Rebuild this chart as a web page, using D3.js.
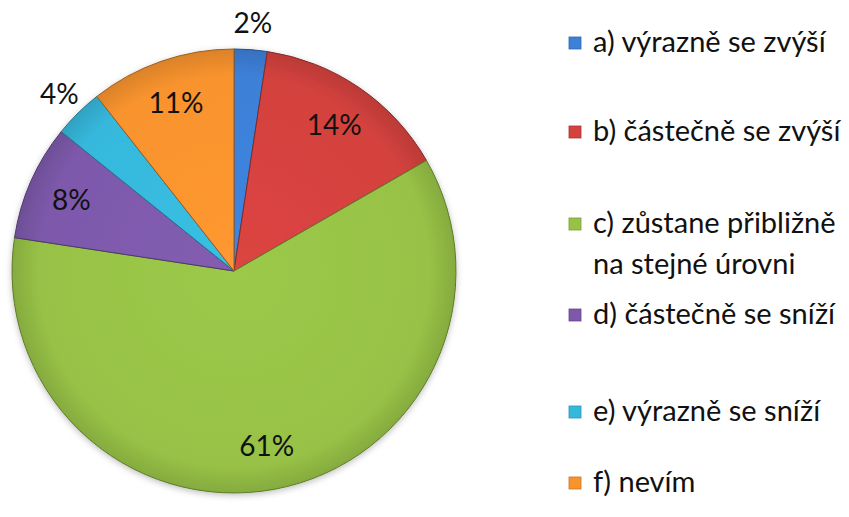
<!DOCTYPE html>
<html>
<head>
<meta charset="utf-8">
<script src="https://cdn.jsdelivr.net/npm/d3@7"></script>
<style>
  body { margin: 0; background: #fff; }
  text { font-family: Lato, "Open Sans", sans-serif; fill: #111; }
</style>
</head>
<body>
<div class="chart"></div>
<script>
var svgWidth = 849;
var svgHeight = 517;

// data
var legendLines = [["a) výrazně se zvýší"], ["b) částečně se zvýší"], ["c) zůstane přibližně", "na stejné úrovni"],
  ["d) částečně se sníží"], ["e) výrazně se sníží"], ["f) nevím"]];
var shares = [2.4, 14.3, 60.7, 8.4, 3.6, 10.6];
var colors = ["#3d80d8", "#d4423e", "#97c246", "#7d59ab", "#36b8dc", "#f8932e"];

// layout
var cx = 234, cy = 271, radius = 222;
var legendX = 569;
var legendY = [42, 131, 223, 314, 411, 482];

var svg = d3.select(".chart")
  .append("svg")
  .attr("width", svgWidth)
  .attr("height", svgHeight);

var defs = svg.append("defs");

// subtle bevel: slightly darker towards the rim
colors.forEach(function(c, i) {
  var g = defs.append("radialGradient")
    .attr("id", "grad" + i)
    .attr("gradientUnits", "userSpaceOnUse")
    .attr("cx", 0).attr("cy", 0).attr("r", radius);
  g.append("stop").attr("offset", "0%").attr("stop-color", d3.color(c).brighter(0.1));
  g.append("stop").attr("offset", "88%").attr("stop-color", c);
  g.append("stop").attr("offset", "100%").attr("stop-color", d3.color(c).darker(0.35));
});

var shadow = defs.append("filter").attr("id", "shadow")
  .attr("x", "-10%").attr("y", "-10%").attr("width", "120%").attr("height", "120%");
shadow.append("feDropShadow").attr("dx", 0).attr("dy", 2).attr("stdDeviation", 3)
  .attr("flood-color", "#000").attr("flood-opacity", 0.25);

var pie = d3.pie().sort(null).value(d => d);
var arcs = pie(shares);

var arc = d3.arc().innerRadius(0).outerRadius(radius);
var labelArc = d3.arc().innerRadius(radius * 0.8).outerRadius(radius * 0.8);
var outerLabelArc = d3.arc().innerRadius(radius * 1.12).outerRadius(radius * 1.12);

var chartGroup = svg.append("g")
  .attr("transform", `translate(${cx}, ${cy})`);

chartGroup.append("g")
  .attr("filter", "url(#shadow)")
  .selectAll("path")
  .data(arcs)
  .enter()
  .append("path")
  .attr("d", arc)
  .attr("fill", (d, i) => `url(#grad${i})`)
  .attr("stroke", (d, i) => d3.color(colors[i]).darker(1.3))
  .attr("stroke-width", 1);

// percentage labels, small slices outside
chartGroup.selectAll(".pct")
  .data(arcs)
  .enter()
  .append("text")
  .classed("pct", true)
  .attr("transform", d => {
    var p = (d.data < 5 ? outerLabelArc : labelArc).centroid(d);
    return `translate(${p[0]}, ${p[1]})`;
  })
  .attr("text-anchor", "middle")
  .attr("dy", "0.36em")
  .attr("font-size", "28px")
  .text(d => Math.round(d.data) + "%");

// legend
var legend = svg.append("g");

var items = legend.selectAll("g")
  .data(legendLines)
  .enter()
  .append("g")
  .attr("transform", (d, i) => `translate(${legendX}, ${legendY[i]})`);

items.append("rect")
  .attr("x", 0)
  .attr("y", -5)
  .attr("width", 12)
  .attr("height", 12)
  .attr("fill", (d, i) => colors[i])
  .attr("stroke", (d, i) => d3.color(colors[i]).darker(0.6))
  .attr("stroke-width", 0.8);

items.each(function(lines) {
  var t = d3.select(this).append("text")
    .attr("x", 24)
    .attr("y", 0)
    .attr("font-size", "29px");
  lines.forEach(function(line, j) {
    t.append("tspan")
      .attr("x", 24)
      .attr("dy", j === 0 ? "0.36em" : "1.41em")
      .text(line);
  });
});
</script>
</body>
</html>
